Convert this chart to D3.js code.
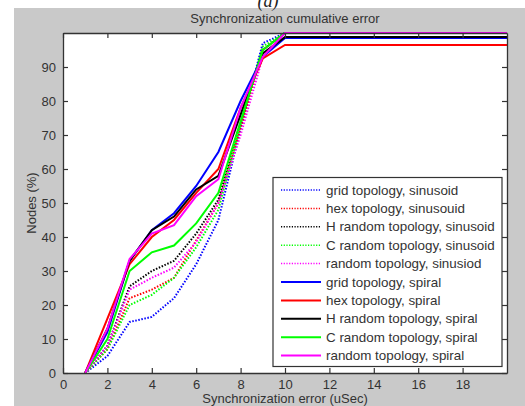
<!DOCTYPE html>
<html>
<head>
<meta charset="utf-8">
<script src="https://cdn.jsdelivr.net/npm/d3@7"></script>
<style>
  body { margin: 0; background: #fff; }
  svg { display: block; }
  text { font-family: "Liberation Sans", Arial, sans-serif; fill: #333; }
</style>
</head>
<body>
<div id="chart"></div>
<script>
// chart values
const xs = [1, 2, 3, 4, 5, 6, 7, 8, 9, 10, 20];
const seriesNames = [
  "grid topology, sinusoid",
  "hex topology, sinusouid",
  "H random topology, sinusoid",
  "C random topology, sinusoid",
  "random topology, sinusiod",
  "grid topology, spiral",
  "hex topology, spiral",
  "H random topology, spiral",
  "C random topology, spiral",
  "random topology, spiral"
];
const gridSin  = [0, 5, 15, 16.5, 22, 32, 45, 72, 97, 100, 100];
const hexSin   = [0, 7, 22, 24.5, 28, 39, 50, 72, 95, 100, 100];
const hRandSin = [0, 8, 25.5, 30, 33, 41, 51, 74, 95, 100, 100];
const cRandSin = [0, 7, 20, 23, 28, 37, 48, 73, 96, 100, 100];
const randSin  = [0, 8, 24.5, 28, 31, 38.5, 50, 70, 93, 100, 100];
const gridSpi  = [0, 12, 33, 42, 47, 55, 65, 80, 93, 98.5, 98.5];
const hexSpi   = [0, 16, 32, 40, 45, 53, 60, 78, 92.5, 96.5, 96.5];
const hRandSpi = [0, 13, 33, 42, 46, 54, 58, 76, 94, 98.8, 98.8];
const cRandSpi = [0, 10, 30, 35.5, 37.5, 44, 53, 74, 95, 100, 100];
const randSpi  = [0, 13, 33.5, 41, 43.5, 52, 57, 78, 93, 100, 100];
const xTicks = [0, 2, 4, 6, 8, 10, 12, 14, 16, 18];
const yTicks = [0, 10, 20, 30, 40, 50, 60, 70, 80, 90];

const allValues = [gridSin, hexSin, hRandSin, cRandSin, randSin,
                   gridSpi, hexSpi, hRandSpi, cRandSpi, randSpi];
const colors = ["#0000ff", "#ff0000", "#000000", "#00ff00", "#ff00ff",
                "#0000ff", "#ff0000", "#000000", "#00ff00", "#ff00ff"];

const width = 525;
const height = 406;
const margin = {left: 63, right: 18, top: 33, bottom: 33};

const svg = d3.select("#chart")
  .append("svg")
  .attr("width", width)
  .attr("height", height);

// gray figure background
svg.append("rect")
  .attr("x", 14).attr("y", 8)
  .attr("width", width - 14).attr("height", height - 8)
  .attr("fill", "#c9c9c9");

// the "(a)" caption above the figure (clipped at the top like the source)
svg.append("text")
  .attr("x", 268).attr("y", 7)
  .attr("text-anchor", "middle")
  .style("font-family", "'Liberation Serif', serif")
  .style("font-style", "italic")
  .style("font-size", "18px")
  .style("fill", "#222")
  .text("(a)");

const xScale = d3.scaleLinear()
  .domain([0, 20])
  .range([margin.left, width - margin.right]);

const yScale = d3.scaleLinear()
  .domain([0, 100])
  .range([height - margin.bottom, margin.top]);

// white plot area
svg.append("rect")
  .attr("x", xScale(0)).attr("y", yScale(100))
  .attr("width", xScale(20) - xScale(0))
  .attr("height", yScale(0) - yScale(100))
  .attr("fill", "#fff");

// lines
const line = d3.line()
  .x((d, i) => xScale(xs[i]))
  .y(d => yScale(d));

svg.append("defs").append("clipPath").attr("id", "plotclip")
  .append("rect")
  .attr("x", xScale(0)).attr("y", yScale(100) - 1)
  .attr("width", xScale(20) - xScale(0))
  .attr("height", yScale(0) - yScale(100) + 1);

svg.append("g")
  .attr("clip-path", "url(#plotclip)")
  .selectAll("path")
  .data(allValues)
  .enter()
  .append("path")
    .attr("d", d => line(d))
    .attr("fill", "none")
    .attr("stroke", (d, i) => colors[i])
    .attr("stroke-width", 2)
    .attr("stroke-dasharray", (d, i) => i < 5 ? "1.5,1.6" : null);

// axes, ticks inward on all four sides
const fontSize = "13px";
const axisColor = "#333";

const xBottom = svg.append("g")
  .attr("transform", `translate(0,${yScale(0)})`)
  .call(d3.axisBottom(xScale).tickValues(xTicks).tickSizeInner(-5).tickSizeOuter(0).tickPadding(7));
const xTop = svg.append("g")
  .attr("transform", `translate(0,${yScale(100)})`)
  .call(d3.axisTop(xScale).tickValues(xTicks).tickSizeInner(-5).tickSizeOuter(0).tickFormat(""));
const yLeft = svg.append("g")
  .attr("transform", `translate(${xScale(0)},0)`)
  .call(d3.axisLeft(yScale).tickValues(yTicks).tickSizeInner(-5).tickSizeOuter(0).tickPadding(7));
const yRight = svg.append("g")
  .attr("transform", `translate(${xScale(20)},0)`)
  .call(d3.axisRight(yScale).tickValues(yTicks).tickSizeInner(-5).tickSizeOuter(0).tickFormat(""));

[xBottom, xTop, yLeft, yRight].forEach(g => {
  g.select(".domain").attr("stroke", axisColor).attr("stroke-width", 1.3);
  g.selectAll(".tick line").attr("stroke", axisColor).attr("stroke-width", 1.2);
  g.selectAll(".tick text")
    .style("font-family", "'Liberation Sans', Arial, sans-serif")
    .style("font-size", fontSize)
    .attr("fill", axisColor);
});

// title and axis labels
svg.append("text")
  .attr("x", (xScale(0) + xScale(20)) / 2)
  .attr("y", 23)
  .attr("text-anchor", "middle")
  .style("font-size", "13px")
  .text("Synchronization cumulative error");

svg.append("text")
  .attr("x", (xScale(0) + xScale(20)) / 2)
  .attr("y", 403)
  .attr("text-anchor", "middle")
  .style("font-size", "13px")
  .text("Synchronization error (uSec)");

svg.append("text")
  .attr("transform", `translate(36,${(yScale(0) + yScale(100)) / 2}) rotate(-90)`)
  .attr("text-anchor", "middle")
  .style("font-size", "13px")
  .text("Nodes (%)");

// legend
const legend = svg.append("g");
legend.append("rect")
  .attr("x", 273).attr("y", 177.5)
  .attr("width", 229).attr("height", 189)
  .attr("fill", "#fff")
  .attr("stroke", axisColor)
  .attr("stroke-width", 1.2);

const rowY = i => 190 + i * 18.4;

legend.selectAll(".lg-line")
  .data(seriesNames)
  .enter()
  .append("line")
    .attr("class", "lg-line")
    .attr("x1", 281).attr("x2", 321)
    .attr("y1", (d, i) => rowY(i)).attr("y2", (d, i) => rowY(i))
    .attr("stroke", (d, i) => colors[i])
    .attr("stroke-width", (d, i) => i < 5 ? 1.5 : 2)
    .attr("stroke-dasharray", (d, i) => i < 5 ? "1.2,1.5" : null);

legend.selectAll(".lg-text")
  .data(seriesNames)
  .enter()
  .append("text")
    .attr("class", "lg-text")
    .attr("x", 326)
    .attr("y", (d, i) => rowY(i) + 4.5)
    .style("font-size", "13.4px")
    .text(d => d);
</script>
</body>
</html>
